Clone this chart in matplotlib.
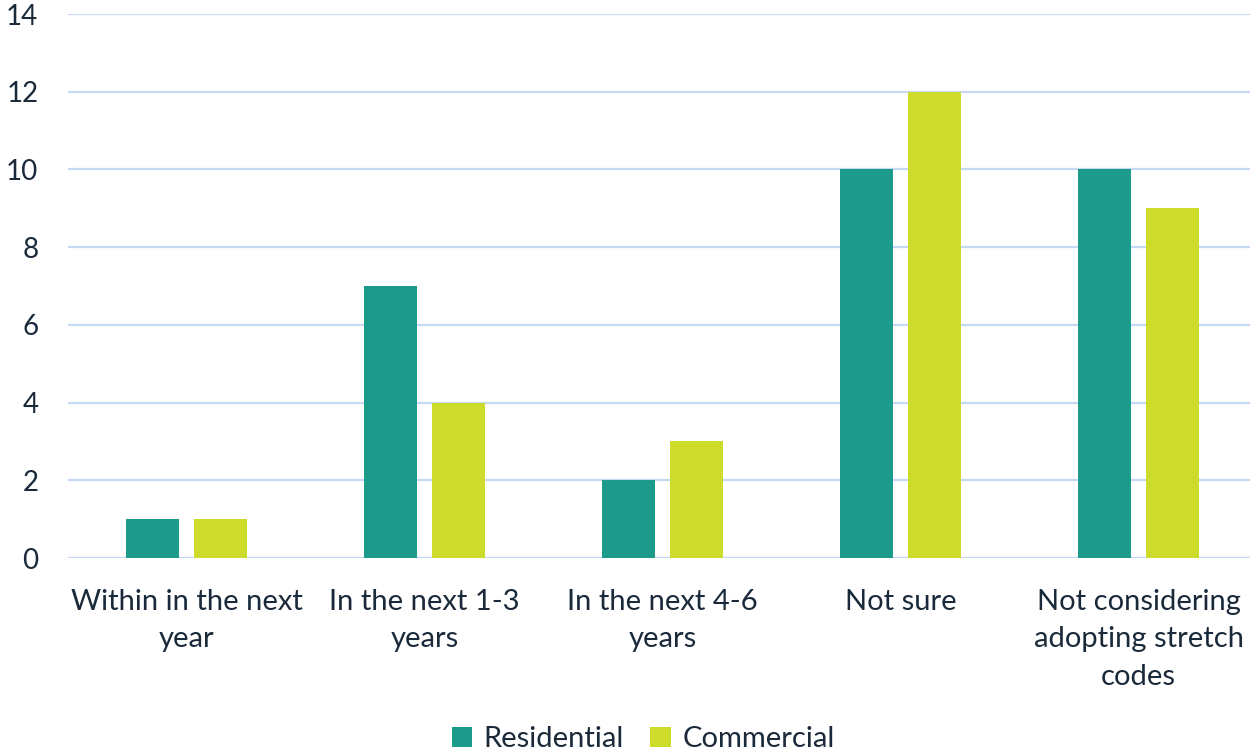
import numpy as np
import matplotlib.pyplot as plt

plt.rcParams["font.family"] = ["Lato", "DejaVu Sans"]

categories = ["Within in the next\nyear", "In the next 1-3\nyears", "In the next 4-6\nyears",
              "Not sure", "Not considering\nadopting stretch\ncodes"]
residential = [1, 7, 2, 10, 10]
commercial = [1, 4, 3, 12, 9]
yticks = [0, 2, 4, 6, 8, 10, 12, 14]

TEAL = "#1C9A8A"
LIME = "#CDDC2A"
TEXT = "#1B2A3A"
GRID = "#C5D9F5"

fig = plt.figure(figsize=(12.5, 7.54), dpi=100)
ax = fig.add_axes([0.054, 0.2599, 0.952, 0.7215])

x = np.arange(len(categories))
w = 0.2227
off = 0.1429
ax.bar(x - off, residential, w, color=TEAL, label="Residential", zorder=3)
ax.bar(x + off, commercial, w, color=LIME, label="Commercial", zorder=3)

ax.set_xlim(-0.5, len(categories) - 0.5)
ax.set_ylim(0, 14)
ax.set_yticks(yticks)
ax.yaxis.grid(True, color=GRID, lw=1.6, zorder=0)
ax.set_axisbelow(True)
for s in ax.spines.values():
    s.set_visible(False)
ax.axhline(0, color=GRID, lw=1.6, zorder=1)

ax.set_xticks(x)
ax.set_xticklabels(categories, fontsize=21, color=TEXT, linespacing=1.55)
ax.tick_params(axis="x", length=0, pad=22)
ax.tick_params(axis="y", length=0, pad=21, labelsize=20, labelcolor=TEXT)

fig.legend(loc="center", bbox_to_anchor=(0.5144, 0.02), ncol=2, frameon=False,
           fontsize=21, handlelength=0.7, handleheight=0.7, handletextpad=0.4,
           columnspacing=0.9, labelcolor=TEXT)

fig.savefig("out.png", dpi=100, facecolor="white")
